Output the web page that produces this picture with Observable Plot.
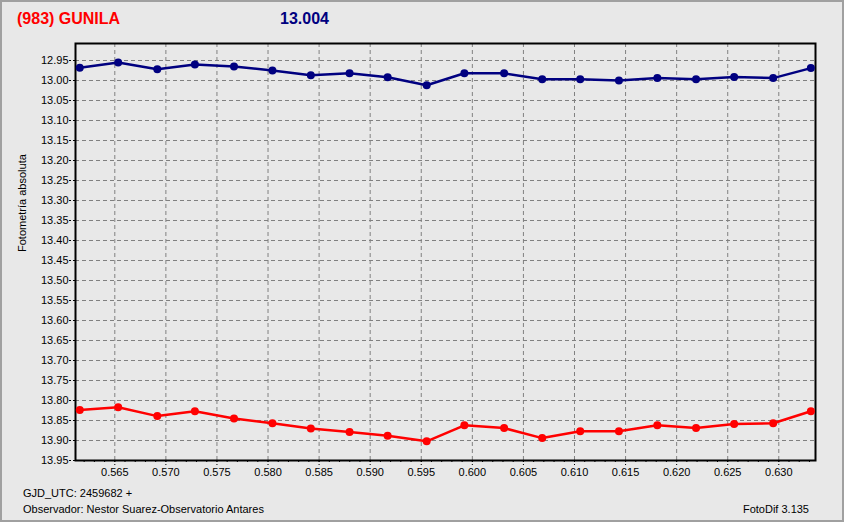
<!DOCTYPE html>
<html>
<head>
<meta charset="utf-8">
<script src="https://cdn.jsdelivr.net/npm/d3@7"></script>
<script src="https://cdn.jsdelivr.net/npm/@observablehq/plot@0.6"></script>
<style>
  html, body { margin: 0; padding: 0; background: #e8e8e8; }
  #wrap { position: relative; width: 844px; height: 522px; background: #e8e8e8; overflow: hidden;
          box-shadow: inset 0 0 0 2px #a0a0a0; font-family: "Liberation Sans", Arial, sans-serif; }
  #chart { position: absolute; left: 0; top: 0; }
  .t { position: absolute; white-space: nowrap; }
  #title { left: 17px; top: 10px; font-size: 16px; font-weight: bold; color: #ff0000; }
  #mag { left: 280px; top: 10px; font-size: 16px; font-weight: bold; color: #000080; }
  #gjd { left: 23px; top: 487px; font-size: 11px; color: #000; }
  #obs { left: 23px; top: 503px; font-size: 11px; color: #000; }
  #ver { right: 35px; top: 503px; font-size: 11px; color: #000; }
</style>
</head>
<body>
<div id="wrap">
  <div id="chart"></div>
  <div class="t" id="title">(983) GUNILA</div>
  <div class="t" id="mag">13.004</div>
  <div class="t" id="gjd">GJD_UTC: 2459682 +</div>
  <div class="t" id="obs">Observador: Nestor Suarez-Observatorio Antares</div>
  <div class="t" id="ver">FotoDif 3.135</div>
</div>
<script>
// Time (fraction of day after GJD 2459682)
const times = [0.56157, 0.56533, 0.56916, 0.57284, 0.57667, 0.58043, 0.58419, 0.58798, 0.59171, 0.59553,
               0.59922, 0.60311, 0.60684, 0.61056, 0.61435, 0.61811, 0.62190, 0.62563, 0.62945, 0.63314];
// Asteroid (blue) absolute photometry
const blueMag = [12.968, 12.955, 12.972, 12.960, 12.965, 12.975, 12.987, 12.982, 12.992, 13.012,
                 12.982, 12.982, 12.997, 12.997, 13.000, 12.994, 12.997, 12.991, 12.994, 12.969];
// Comparison (red) absolute photometry
const redMag = [13.824, 13.817, 13.839, 13.827, 13.845, 13.857, 13.870, 13.879, 13.888, 13.902,
                13.862, 13.869, 13.894, 13.877, 13.877, 13.862, 13.869, 13.859, 13.857, 13.827];
// Tick values
const xTicks = [0.565, 0.570, 0.575, 0.580, 0.585, 0.590, 0.595, 0.600, 0.605, 0.610, 0.615, 0.620, 0.625, 0.630];
const xMinorTicks = d3.range(562, 634).map(d => d / 1000);
const yTicks = [12.95, 13.00, 13.05, 13.10, 13.15, 13.20, 13.25, 13.30, 13.35, 13.40, 13.45, 13.50,
                13.55, 13.60, 13.65, 13.70, 13.75, 13.80, 13.85, 13.90, 13.95];
const yLabel = "Fotometría absoluta";

const blueData = times.map((t, i) => ({t, m: blueMag[i]}));
const redData = times.map((t, i) => ({t, m: redMag[i]}));

const chart = Plot.plot({
  width: 844,
  height: 522,
  marginLeft: 75,
  marginRight: 29,
  marginTop: 43,
  marginBottom: 62,
  style: { background: "transparent", fontFamily: "Liberation Sans, Arial, sans-serif", fontSize: "11px", color: "#000" },
  x: { domain: [0.561153, 0.633593] },
  y: { domain: [13.95, 12.9075] },
  marks: [
    Plot.gridX(xTicks, { stroke: "#808080", strokeOpacity: 1, strokeDasharray: "4,3" }),
    Plot.gridY(yTicks, { stroke: "#808080", strokeOpacity: 1, strokeDasharray: "4,3" }),
    Plot.axisX({ ticks: xMinorTicks, tickSize: 3, tickFormat: () => "", label: null, strokeDasharray: "2,2" }),
    Plot.axisX({ ticks: xTicks, tickSize: 5, tickPadding: 3, tickFormat: d3.format(".3f"), label: null, strokeDasharray: "2,2" }),
    Plot.axisY({ ticks: yTicks, tickSize: 6, tickPadding: 1, tickFormat: d3.format(".2f"), label: null, strokeDasharray: "2,2" }),
    Plot.text([yLabel], { frameAnchor: "left", rotate: -90, dx: -53, fontSize: 11, fill: "#000" }),
    Plot.frame({ stroke: "#000", strokeWidth: 2 }),
    Plot.line(blueData, { x: "t", y: "m", stroke: "#000080", strokeWidth: 2.5 }),
    Plot.dot(blueData, { x: "t", y: "m", r: 4, fill: "#000080", stroke: "none" }),
    Plot.line(redData, { x: "t", y: "m", stroke: "#ff0000", strokeWidth: 2.5 }),
    Plot.dot(redData, { x: "t", y: "m", r: 4, fill: "#ff0000", stroke: "none" })
  ]
});
document.getElementById("chart").appendChild(chart);
</script>
</body>
</html>
